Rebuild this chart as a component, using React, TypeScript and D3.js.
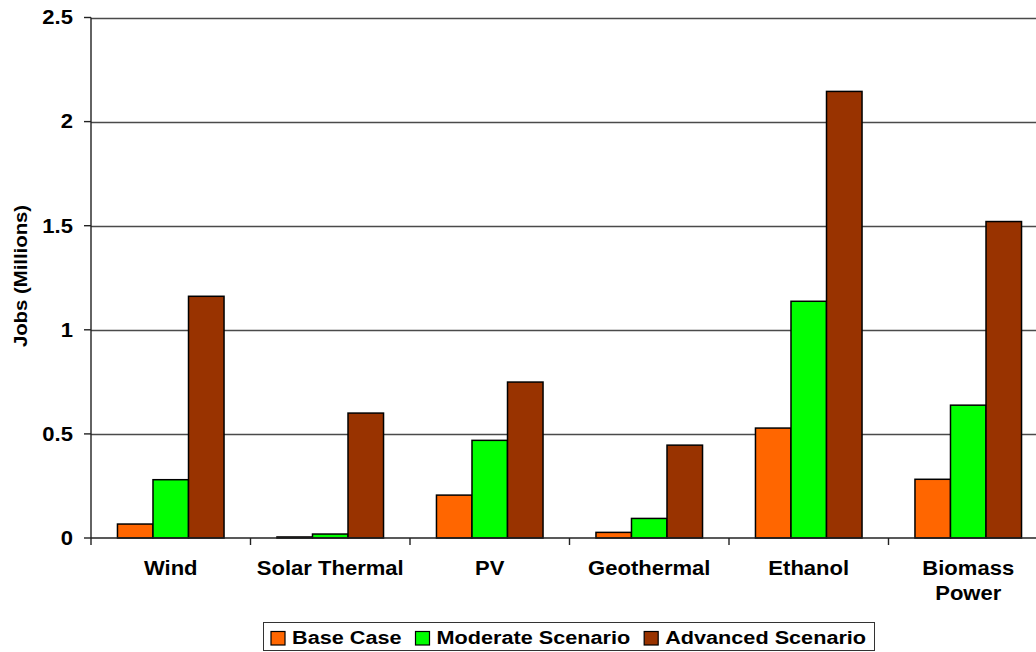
import React, { useEffect, useRef } from "react";
import * as d3 from "d3";

// Job estimates (millions) by renewable technology and scenario
const categories: string[][] = [
  ["Wind"],
  ["Solar Thermal"],
  ["PV"],
  ["Geothermal"],
  ["Ethanol"],
  ["Biomass", "Power"],
];
const seriesNames = ["Base Case", "Moderate Scenario", "Advanced Scenario"];
const seriesColors = ["#FF6600", "#00FF00", "#993300"];
const baseCase = [0.067, 0.005, 0.206, 0.027, 0.528, 0.282];
const moderateScenario = [0.28, 0.019, 0.469, 0.094, 1.137, 0.638];
const advancedScenario = [1.161, 0.6, 0.749, 0.446, 2.145, 1.52];
const yTicks = [0, 0.5, 1, 1.5, 2, 2.5];
const yTickLabels = ["0", "0.5", "1", "1.5", "2", "2.5"];
const yTitle = "Jobs (Millions)";

const W = 1036;
const H = 652;
const FONT = "'Liberation Sans', Arial, Helvetica, sans-serif";
const FS = 19.5;
const SX = 1.13;

export default function App() {
  const ref = useRef<SVGSVGElement | null>(null);

  useEffect(() => {
    const svg = d3.select(ref.current!);
    svg.selectAll("*").remove();

    const left = 91;
    const top = 17.5;
    const bottom = 538;
    const catWidth = 159.5;
    const right = left + catWidth * categories.length;

    const values = [baseCase, moderateScenario, advancedScenario];
    const keys = categories.map((c) => c.join(" "));

    const x = d3.scaleBand<string>().domain(keys).range([left, right]).padding(0);
    const xs = d3
      .scaleBand<number>()
      .domain([0, 1, 2])
      .range([0, x.bandwidth()])
      .paddingInner(0)
      .paddingOuter(0.745);
    const y = d3.scaleLinear().domain([0, 2.5]).range([bottom, top]);

    const addText = (
      parent: d3.Selection<any, any, any, any>,
      tx: number,
      ty: number,
      str: string,
      anchor: string,
      size = FS,
      sx = SX
    ) => {
      const g = parent.append("g").attr("transform", `translate(${tx},${ty})`);
      return g
        .append("text")
        .attr("transform", `scale(${sx},1)`)
        .attr("text-anchor", anchor)
        .attr("font-family", FONT)
        .attr("font-weight", "bold")
        .attr("font-size", size)
        .attr("fill", "#000")
        .text(str);
    };

    // Gridlines
    svg
      .append("g")
      .selectAll("line")
      .data(yTicks.filter((t) => t > 0))
      .join("line")
      .attr("x1", left)
      .attr("x2", right)
      .attr("y1", (d) => Math.round(y(d)) + 0.5)
      .attr("y2", (d) => Math.round(y(d)) + 0.5)
      .attr("stroke", "#4a4a4a")
      .attr("stroke-width", 1.4);

    // Bars
    const groups = svg
      .append("g")
      .selectAll("g")
      .data(keys)
      .join("g")
      .attr("transform", (k) => `translate(${x(k)},0)`);
    groups
      .selectAll("rect")
      .data((_k, i) => values.map((s, j) => ({ j, v: s[i] })))
      .join("rect")
      .attr("x", (d) => xs(d.j)!)
      .attr("width", xs.bandwidth())
      .attr("y", (d) => y(d.v))
      .attr("height", (d) => y(0) - y(d.v))
      .attr("fill", (d) => seriesColors[d.j])
      .attr("stroke", "#000")
      .attr("stroke-width", 1.5);

    // Axes
    svg
      .append("line")
      .attr("x1", left)
      .attr("x2", left)
      .attr("y1", top)
      .attr("y2", bottom)
      .attr("stroke", "#222")
      .attr("stroke-width", 1.4);
    svg
      .append("line")
      .attr("x1", left)
      .attr("x2", right)
      .attr("y1", bottom)
      .attr("y2", bottom)
      .attr("stroke", "#222")
      .attr("stroke-width", 1.4);

    // Y ticks and labels
    yTicks.forEach((t, i) => {
      svg
        .append("line")
        .attr("x1", left - 7)
        .attr("x2", left)
        .attr("y1", y(t))
        .attr("y2", y(t))
        .attr("stroke", "#222")
        .attr("stroke-width", 1.4);
      addText(svg, 73, y(t) + 6.8, yTickLabels[i], "end");
    });

    // X ticks at category boundaries
    d3.range(categories.length + 1).forEach((i) => {
      const xx = left + i * catWidth;
      svg
        .append("line")
        .attr("x1", xx)
        .attr("x2", xx)
        .attr("y1", bottom)
        .attr("y2", bottom + 7)
        .attr("stroke", "#222")
        .attr("stroke-width", 1.4);
    });

    // Category labels
    categories.forEach((lines, i) => {
      const cx = x(keys[i])! + x.bandwidth() / 2;
      lines.forEach((ln, k) => {
        addText(svg, cx, 575 + k * 25, ln, "middle");
      });
    });

    // Y axis title
    const tg = svg.append("g").attr("transform", `translate(26.5,276) rotate(-90)`);
    tg.append("text")
      .attr("transform", `scale(${SX},1)`)
      .attr("text-anchor", "middle")
      .attr("font-family", FONT)
      .attr("font-weight", "bold")
      .attr("font-size", 18)
      .text(yTitle);

    // Legend
    const lg = svg.append("g");
    lg.append("rect")
      .attr("x", 263.5)
      .attr("y", 622.5)
      .attr("width", 611)
      .attr("height", 28)
      .attr("fill", "#fff")
      .attr("stroke", "#333")
      .attr("stroke-width", 1);
    let cur = 271;
    const lfs = 19;
    const lsx = 1.14;
    seriesNames.forEach((name, j) => {
      lg.append("rect")
        .attr("x", cur)
        .attr("y", 631.5)
        .attr("width", 14)
        .attr("height", 13.5)
        .attr("fill", seriesColors[j])
        .attr("stroke", "#000")
        .attr("stroke-width", 1.2);
      const t = addText(lg, cur + 21, 644, name, "start", lfs, lsx);
      const w = (t.node() as SVGTextElement).getComputedTextLength() * lsx;
      cur = cur + 21 + w + 14;
    });
  }, []);

  return (
    <svg
      ref={ref}
      width={W}
      height={H}
      style={{ position: "absolute", left: 0, top: 0, background: "#fff" }}
    />
  );
}
